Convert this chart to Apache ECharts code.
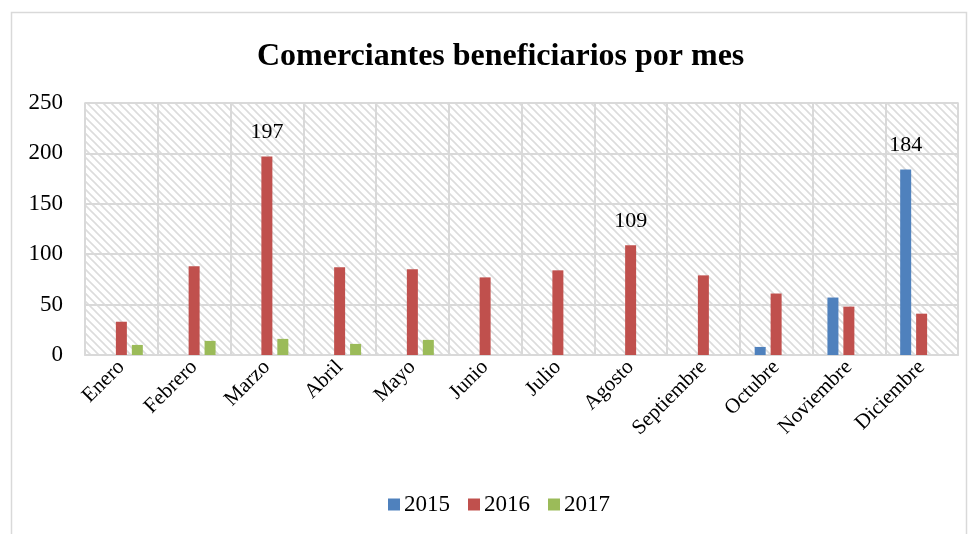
<!DOCTYPE html>
<html>
<head>
<meta charset="utf-8">
<script src="https://cdn.jsdelivr.net/npm/echarts@6/dist/echarts.min.js"></script>
<style>
  html, body { margin: 0; padding: 0; background: #fff; }
  #chart { width: 972px; height: 534px; }
</style>
</head>
<body>
<div id="chart"></div>
<script>
// datos del gráfico
const meses = ["Enero", "Febrero", "Marzo", "Abril", "Mayo", "Junio", "Julio",
  "Agosto", "Septiembre", "Octubre", "Noviembre", "Diciembre"];
const anios = ["2015", "2016", "2017"];
const v2015 = [null, null, null, null, null, null, null, null, null, 8, 57, 184];
const v2016 = [33, 88, 197, 87, 85, 77, 84, 109, 79, 61, 48, 41];
const v2017 = [10, 14, 16, 11, 15, null, null, null, null, null, null, null];
// puntos con etiqueta visible (índice de mes)
const etiquetas2015 = [11];
const etiquetas2016 = [2, 7];
const etiquetas2017 = [];
const ticksY = [0, 50, 100, 150, 200, 250];

const colores = ["#4F81BD", "#C0504D", "#9BBB59"];
const fuente = "'Liberation Serif', 'Times New Roman', serif";

// trama diagonal del área de trazado
function trama() {
  const c = document.createElement("canvas");
  c.width = 8;
  c.height = 8;
  const ctx = c.getContext("2d");
  ctx.fillStyle = "#ffffff";
  ctx.fillRect(0, 0, 8, 8);
  ctx.strokeStyle = "#dcdcdc";
  ctx.lineWidth = 1.6;
  ctx.beginPath();
  ctx.moveTo(-2, -2); ctx.lineTo(10, 10);
  ctx.moveTo(-2, 6); ctx.lineTo(2, 10);
  ctx.moveTo(6, -2); ctx.lineTo(10, 2);
  ctx.stroke();
  return c;
}

function conEtiquetas(valores, idx) {
  return valores.map((v, i) => idx.includes(i)
    ? { value: v, label: { show: true } }
    : v);
}

const series = [v2015, v2016, v2017].map((vals, k) => ({
  name: anios[k],
  type: "bar",
  barWidth: 11,
  barGap: "45%",
  itemStyle: { color: colores[k] },
  label: {
    show: false,
    position: "top",
    distance: 13,
    color: "#000",
    fontFamily: fuente,
    fontSize: 22,
  },
  data: conEtiquetas(vals, [etiquetas2015, etiquetas2016, etiquetas2017][k]),
}));

const chart = echarts.init(document.getElementById("chart"));
chart.setOption({
  backgroundColor: "#fff",
  animation: false,
  textStyle: { fontFamily: fuente },
  graphic: [{
    type: "rect",
    shape: { x: 11.5, y: 12.5, width: 955, height: 540 },
    style: { fill: "none", stroke: "#d9d9d9", lineWidth: 1.5 },
    silent: true,
  }],
  title: {
    text: "Comerciantes beneficiarios por mes",
    left: 252,
    top: 36,
    textStyle: { fontFamily: fuente, fontSize: 32, fontWeight: "bold", color: "#000" },
  },
  legend: {
    data: anios,
    bottom: 13,
    left: 383,
    itemWidth: 12,
    itemHeight: 12,
    itemGap: 18,
    icon: "rect",
    textStyle: { fontFamily: fuente, fontSize: 23, color: "#000", padding: [0, 0, 0, -1] },
  },
  grid: {
    left: 85,
    right: 14,
    top: 103,
    bottom: 179,
    show: true,
    backgroundColor: { image: trama(), repeat: "repeat" },
    borderColor: "#d9d9d9",
    borderWidth: 1.5,
  },
  xAxis: {
    type: "category",
    data: meses,
    axisTick: { show: false },
    axisLine: { lineStyle: { color: "#d9d9d9", width: 2 } },
    splitLine: { show: true, interval: 0, lineStyle: { color: "#d9d9d9", width: 2 } },
    axisLabel: {
      interval: 0,
      rotate: 45,
      margin: 9,
      color: "#000",
      fontFamily: fuente,
      fontSize: 21,
    },
  },
  yAxis: {
    type: "value",
    min: ticksY[0],
    max: ticksY[ticksY.length - 1],
    interval: 50,
    axisLine: { show: false },
    axisTick: { show: false },
    splitLine: { lineStyle: { color: "#d9d9d9", width: 2 } },
    axisLabel: { color: "#000", fontFamily: fuente, fontSize: 23, margin: 22 },
  },
  series: series,
});
</script>
</body>
</html>
